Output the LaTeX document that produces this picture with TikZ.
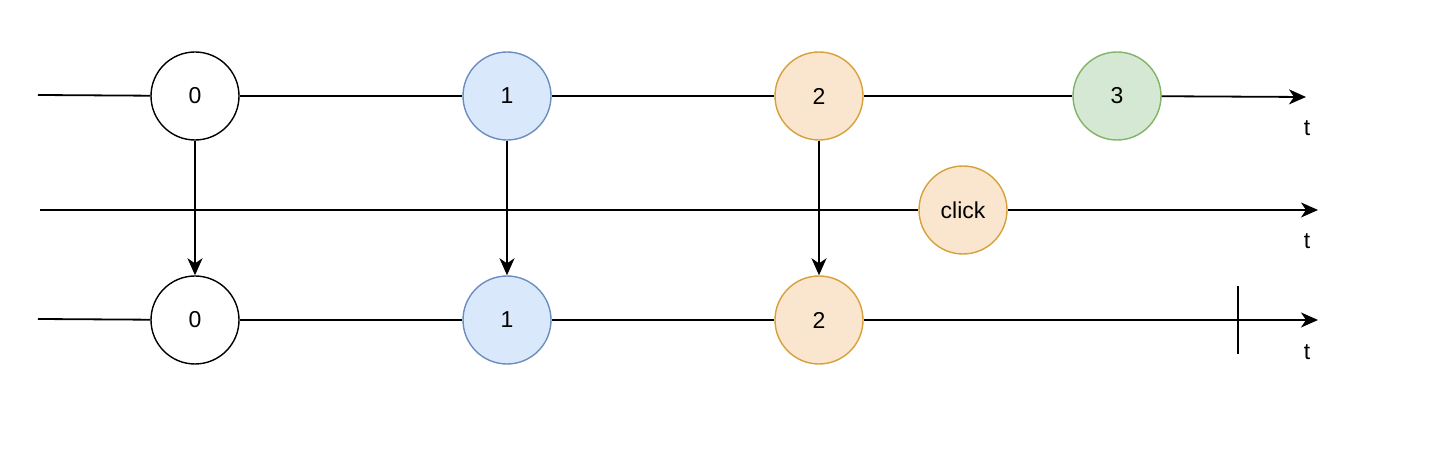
\documentclass[tikz,border=0pt]{standalone}
\usepackage{fontspec}
\setmainfont{Liberation Sans}
\usetikzlibrary{arrows.meta,positioning}
\definecolor{blueline}{HTML}{6C8EBF}
\definecolor{bluefill}{HTML}{DAE8FC}
\definecolor{orangeline}{HTML}{D6A13B}
\definecolor{orangefill}{HTML}{FAE6CE}
\definecolor{greenline}{HTML}{82B366}
\definecolor{greenfill}{HTML}{D5E8D4}

\begin{document}
\begin{tikzpicture}[x=0.5pt, y=-0.5pt, font=\fontsize{11.5}{13}\selectfont,
  marble/.style={circle, draw, line width=0.7pt, minimum size=44pt, inner sep=0pt},
  tl/.style={line width=0.9pt},
  tarrow/.style={line width=0.9pt, -{Stealth[length=8.5pt, width=7.5pt, inset=2.5pt]}}]
\useasboundingbox (0,0) rectangle (1446,458);
% source stream
\coordinate (s1) at (38,95);
\coordinate (e1) at (1306,97);
\node[marble, fill=white] (a0) at (195,96) {0};
\node[marble, draw=blueline, fill=bluefill] (a1) at (507,96) {1};
\node[marble, draw=orangeline, fill=orangefill] (a2) at (819,96) {2};
\node[marble, draw=greenline, fill=greenfill] (a3) at (1117,96) {3};
\node (t1) at (1307,128) {t};
\draw[tl] (s1) -- (a0);
\draw[tl] (a0) -- (a1);
\draw[tl] (a1) -- (a2);
\draw[tl] (a2) -- (a3);
\draw[tarrow] (a3) -- (e1);
% click stream
\coordinate (s2) at (40,210);
\coordinate (e2) at (1318,210);
\node[marble, draw=orangeline, fill=orangefill] (c) at (963,210) {click};
\node (t2) at (1307,241) {t};
\draw[tl] (s2) -- (c);
\draw[tarrow] (c) -- (e2);
% result stream
\coordinate (s3) at (38,319);
\coordinate (e3) at (1318,320);
\node[marble, fill=white] (b0) at (195,320) {0};
\node[marble, draw=blueline, fill=bluefill] (b1) at (507,320) {1};
\node[marble, draw=orangeline, fill=orangefill] (b2) at (819,320) {2};
\node (t3) at (1307,352) {t};
\coordinate (k1) at (1238,286);
\coordinate (k2) at (1238,354);
\draw[tl] (s3) -- (b0);
\draw[tl] (b0) -- (b1);
\draw[tl] (b1) -- (b2);
\draw[tarrow] (b2) -- (e3);
\draw[tl] (k1) -- (k2);
% mapping
\draw[tarrow] (a0) -- (b0);
\draw[tarrow] (a1) -- (b1);
\draw[tarrow] (a2) -- (b2);
\end{tikzpicture}
\end{document}
